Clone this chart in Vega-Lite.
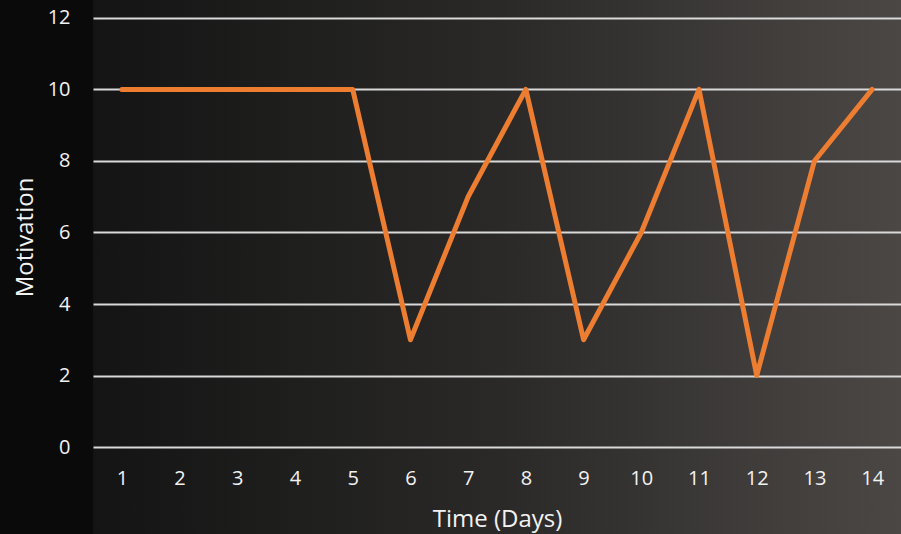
{
  "$schema": "https://vega.github.io/schema/vega-lite/v6.json",
  "width": 808,
  "height": 534,
  "autosize": {"type": "none"},
  "padding": {"left": 93, "top": 0, "right": 0, "bottom": 0},
  "background": "#0a0a0a",
  "config": {
    "view": {
      "stroke": null,
      "fill": {"expr": "{gradient: 'linear', x1: 0, y1: 0, x2: 1, y2: 0, stops: [{offset: 0, color: '#141414'}, {offset: 0.5, color: '#2a2928'}, {offset: 1, color: '#4b4745'}]}"}
    },
    "font": "Open Sans",
    "axis": {
      "labelFont": "Open Sans",
      "titleFont": "Open Sans",
      "labelFontSize": 20,
      "titleFontSize": 24,
      "labelColor": "#f2f2f2",
      "titleColor": "#f2f2f2",
      "titleFontWeight": "normal",
      "ticks": false,
      "tickSize": 0,
      "domain": false
    }
  },
  "data": {
    "values": [
      {"day": 1, "motivation": 10},
      {"day": 2, "motivation": 10},
      {"day": 3, "motivation": 10},
      {"day": 4, "motivation": 10},
      {"day": 5, "motivation": 10},
      {"day": 6, "motivation": 3},
      {"day": 7, "motivation": 7},
      {"day": 8, "motivation": 10},
      {"day": 9, "motivation": 3},
      {"day": 10, "motivation": 6},
      {"day": 11, "motivation": 10},
      {"day": 12, "motivation": 2},
      {"day": 13, "motivation": 8},
      {"day": 14, "motivation": 10}
    ]
  },
  "mark": {"type": "line", "color": "#ED7D31", "strokeWidth": 5, "strokeCap": "round", "strokeJoin": "round"},
  "encoding": {
    "x": {
      "field": "day",
      "type": "ordinal",
      "scale": {"type": "point", "padding": 0.5},
      "axis": {
        "title": "Time (Days)",
        "labelAngle": 0,
        "offset": -87,
        "labelPadding": 21,
        "grid": false,
        "titleY": 72,
        "titleBaseline": "middle"
      }
    },
    "y": {
      "field": "motivation",
      "type": "quantitative",
      "scale": {"domain": [-2.43, 12.5], "nice": false, "zero": false},
      "axis": {
        "title": "Motivation",
        "values": [0, 2, 4, 6, 8, 10, 12],
        "labelPadding": 23,
        "grid": true,
        "gridColor": "#d9d9d9",
        "gridWidth": 2,
        "gridOpacity": 1,
        "titleX": -68,
        "titleY": 237,
        "titleAngle": -90,
        "titleAlign": "center",
        "titleBaseline": "middle"
      }
    }
  }
}
